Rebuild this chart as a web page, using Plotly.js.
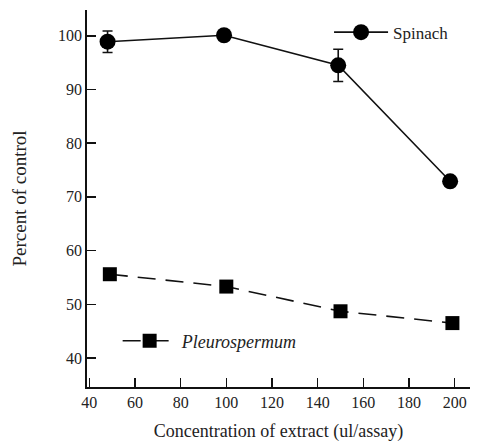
<!DOCTYPE html>
<html><head><meta charset="utf-8">
<script src="https://cdn.plot.ly/plotly-3.0.1.min.js"></script>
<style>html,body{margin:0;padding:0;background:#fff}#c{width:482px;height:443px}</style>
</head><body><div id="c"></div>
<script>
const spinachX = [48, 99, 149, 198];
const spinachY = [98.9, 100.1, 94.5, 72.9];
const spinachErr = [2.0, 0, 3.0, 0];
const pleuroX = [49, 100, 150, 199];
const pleuroY = [55.6, 53.3, 48.7, 46.5];
const xTicks = [40, 60, 80, 100, 120, 140, 160, 180, 200];
const yTicks = [40, 50, 60, 70, 80, 90, 100];

const fam = 'Liberation Serif, Times New Roman, serif';
const col = '#222';

const traces = [
  {x: spinachX, y: spinachY, name: 'Spinach', type: 'scatter', mode: 'lines+markers',
   line: {color: '#111', width: 1.6},
   marker: {symbol: 'circle', size: 16, color: '#000'},
   error_y: {type: 'data', array: spinachErr, visible: true, color: '#111', thickness: 1.6, width: 5},
   legend: 'legend'},
  {x: pleuroX, y: pleuroY, name: '<i>Pleurospermum</i>', type: 'scatter', mode: 'lines+markers',
   line: {color: '#111', width: 1.6, dash: '18px,10px'},
   marker: {symbol: 'square', size: 14, color: '#000'},
   legend: 'legend2'}
];

const layout = {
  width: 482, height: 443,
  margin: {l: 87, r: 12, t: 10, b: 56},
  paper_bgcolor: '#fff', plot_bgcolor: '#fff',
  font: {family: fam, color: col, size: 15},
  showlegend: true,
  legend: {x: 0.632, y: 0.94, xanchor: 'left', yanchor: 'middle', bgcolor: 'rgba(0,0,0,0)',
           font: {family: fam, size: 17, color: col}, itemwidth: 54},
  legend2: {x: 0.08, y: 0.122, xanchor: 'left', yanchor: 'middle', bgcolor: 'rgba(0,0,0,0)',
           font: {family: fam, size: 18, color: col}, itemwidth: 54},
  xaxis: {range: [39, 206.7], tickvals: xTicks, ticktext: xTicks.map(String),
          ticks: 'inside', ticklen: 9, tickwidth: 1.5, tickcolor: '#111',
          showline: true, linecolor: '#111', linewidth: 1.8, showgrid: false, zeroline: false,
          tickfont: {family: fam, size: 16, color: col},
          title: {text: 'Concentration of extract (ul/assay)', font: {family: fam, size: 18, color: col}, standoff: 14}},
  yaxis: {range: [34.6, 104.8], tickvals: yTicks, ticktext: yTicks.map(String),
          ticks: 'inside', ticklen: 9, tickwidth: 1.5, tickcolor: '#111',
          showline: true, linecolor: '#111', linewidth: 1.8, showgrid: false, zeroline: false,
          tickfont: {family: fam, size: 16, color: col},
          title: {text: 'Percent of control', font: {family: fam, size: 19, color: col}, standoff: 26}}
};

Plotly.newPlot('c', traces, layout, {staticPlot: true});
</script></body></html>
